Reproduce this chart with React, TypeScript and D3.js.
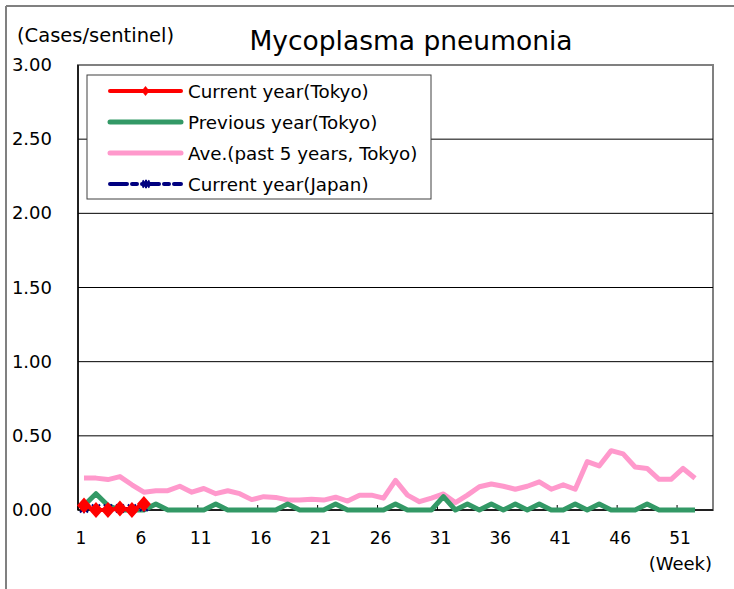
import React from "react";
import * as d3 from "d3";

const weeks: number[] = d3.range(1, 53);
const currentTokyo: number[] = [0.03, 0.0, 0.0, 0.01, 0.0, 0.04];
const currentJapan: number[] = [0.01, 0.01, 0.01, 0.01, 0.01, 0.02];
const previousTokyo: number[] = [
  0.03, 0.11, 0.03, 0, 0, 0, 0.04, 0, 0, 0, 0, 0.04, 0, 0, 0, 0, 0, 0.04, 0, 0,
  0, 0.04, 0, 0, 0, 0, 0.04, 0, 0, 0, 0.09, 0, 0.04, 0, 0.04, 0, 0.04, 0, 0.04, 0,
  0, 0.04, 0, 0.04, 0, 0, 0, 0.04, 0, 0, 0, 0,
];
const avgPast5: number[] = [
  0.215, 0.215, 0.205, 0.225, 0.17, 0.12, 0.13, 0.13, 0.16, 0.12, 0.145, 0.11,
  0.13, 0.11, 0.07, 0.09, 0.085, 0.067, 0.067, 0.072, 0.067, 0.086, 0.06, 0.1,
  0.1, 0.08, 0.2, 0.1, 0.056, 0.08, 0.108, 0.05, 0.1, 0.157, 0.175, 0.16, 0.14,
  0.16, 0.19, 0.14, 0.17, 0.14, 0.326, 0.297, 0.4, 0.378, 0.29, 0.28, 0.207,
  0.207, 0.28, 0.214,
];
const yTicks: number[] = [0, 0.5, 1, 1.5, 2, 2.5, 3];
const xLabelWeeks: number[] = [1, 6, 11, 16, 21, 26, 31, 36, 41, 46, 51];
const legendItems: string[] = [
  "Current year(Tokyo)",
  "Previous year(Tokyo)",
  "Ave.(past 5 years, Tokyo)",
  "Current year(Japan)",
];

const W = 734;
const H = 589;
const L = 78, R = 713, T = 65, B = 510;
const FONT = "'DejaVu Sans', sans-serif";

const RED = "#FF0000";
const GREEN = "#339966";
const PINK = "#FF99CC";
const NAVY = "#000080";

export default function App() {
  const x = d3.scaleLinear().domain([0.5, 53.5]).range([L, R]);
  const y = d3.scaleLinear().domain([0, 3]).range([B, T]);
  const line = d3
    .line<number>()
    .x((_, i) => x(weeks[i]))
    .y((d) => y(d));

  const diamond = (cx: number, cy: number, hw: number, hh: number) =>
    `M${cx},${cy - hh}L${cx + hw},${cy}L${cx},${cy + hh}L${cx - hw},${cy}Z`;
  const star = (cx: number, cy: number, r: number) =>
    `M${cx - r},${cy - r}L${cx + r},${cy + r}M${cx - r},${cy + r}L${cx + r},${cy - r}M${cx},${cy - r * 1.2}L${cx},${cy + r * 1.2}`;

  const boundaryTicks = d3.range(0.5, 51, 5);
  const legendX = 87, legendY = 75;
  const rowY = (i: number) => 91 + i * 31;

  return (
    <svg
      width={W}
      height={H}
      style={{ position: "absolute", left: 0, top: 0, background: "#fff" }}
      fontFamily={FONT}
    >
      <rect x={0} y={0} width={W} height={H} fill="#fff" />
      {/* chart area frame */}
      <line x1={6} y1={6} x2={734} y2={6} stroke="#808080" strokeWidth={2} />
      <line x1={6} y1={6} x2={6} y2={589} stroke="#808080" strokeWidth={2} />

      {/* title and unit */}
      <text x={411} y={50} fontSize={26.5} textAnchor="middle" fill="#000">
        Mycoplasma pneumonia
      </text>
      <text x={17} y={42} fontSize={19.5} fill="#000">
        (Cases/sentinel)
      </text>

      {/* plot border */}
      <rect x={L} y={T} width={R - L} height={B - T} fill="#fff" stroke="#808080" strokeWidth={2} />
      {/* gridlines */}
      {yTicks.slice(1, -1).map((t) => (
        <line key={t} x1={L} x2={R} y1={y(t)} y2={y(t)} stroke="#000" strokeWidth={1} />
      ))}
      <line x1={L} x2={L} y1={T} y2={B} stroke="#000" strokeWidth={1.5} />
      <line x1={L} x2={R} y1={B} y2={B} stroke="#000" strokeWidth={1.5} />
      {boundaryTicks.map((t) => (
        <line key={t} x1={x(t)} x2={x(t)} y1={B} y2={B - 5} stroke="#000" strokeWidth={1} />
      ))}

      {/* y tick labels */}
      {yTicks.map((t) => (
        <text key={t} x={52} y={y(t) + 6} fontSize={18} textAnchor="end" fill="#000">
          {t.toFixed(2)}
        </text>
      ))}
      {/* x tick labels */}
      {xLabelWeeks.map((w) => (
        <text key={w} x={x(w) - 3} y={544} fontSize={17} textAnchor="middle" fill="#000">
          {w}
        </text>
      ))}
      <text x={712} y={570} fontSize={18} textAnchor="end" fill="#000">
        (Week)
      </text>

      {/* series */}
      <path d={line(avgPast5) || ""} fill="none" stroke={PINK} strokeWidth={5} strokeLinejoin="round" />
      <path d={line(previousTokyo) || ""} fill="none" stroke={GREEN} strokeWidth={5} strokeLinejoin="round" />
      <path
        d={line(currentJapan) || ""}
        fill="none"
        stroke={NAVY}
        strokeWidth={3}
        strokeDasharray="9,4,3,4"
      />
      {currentJapan.map((v, i) => (
        <path key={i} d={star(x(weeks[i]), y(v), 4)} stroke={NAVY} strokeWidth={2} fill="none" />
      ))}
      <path d={line(currentTokyo) || ""} fill="none" stroke={RED} strokeWidth={4} strokeLinejoin="round" />
      {currentTokyo.map((v, i) => (
        <path key={i} d={diamond(x(weeks[i]), y(v), 7, 8)} fill={RED} />
      ))}

      {/* legend */}
      <rect x={legendX} y={legendY} width={344} height={124} fill="#fff" stroke="#404040" strokeWidth={1} />
      {legendItems.map((name, i) => {
        const cy = rowY(i);
        return (
          <g key={name}>
            {i === 0 && (
              <>
                <line x1={110} x2={181} y1={cy} y2={cy} stroke={RED} strokeWidth={4} strokeLinecap="round" />
                <path d={diamond(145.5, cy, 4, 5)} fill={RED} />
              </>
            )}
            {i === 1 && (
              <line x1={110} x2={181} y1={cy} y2={cy} stroke={GREEN} strokeWidth={5} strokeLinecap="round" />
            )}
            {i === 2 && (
              <line x1={110} x2={181} y1={cy} y2={cy} stroke={PINK} strokeWidth={5} strokeLinecap="round" />
            )}
            {i === 3 && (
              <>
                <line
                  x1={110}
                  x2={181}
                  y1={cy}
                  y2={cy}
                  stroke={NAVY}
                  strokeWidth={4}
                  strokeDasharray="17,5,5,5"
                  strokeLinecap="round"
                />
                <path d={star(146, cy, 3.5)} stroke={NAVY} strokeWidth={2} fill="none" />
              </>
            )}
            <text x={188} y={cy + 6.5} fontSize={18.3} fill="#000">
              {name}
            </text>
          </g>
        );
      })}
    </svg>
  );
}
